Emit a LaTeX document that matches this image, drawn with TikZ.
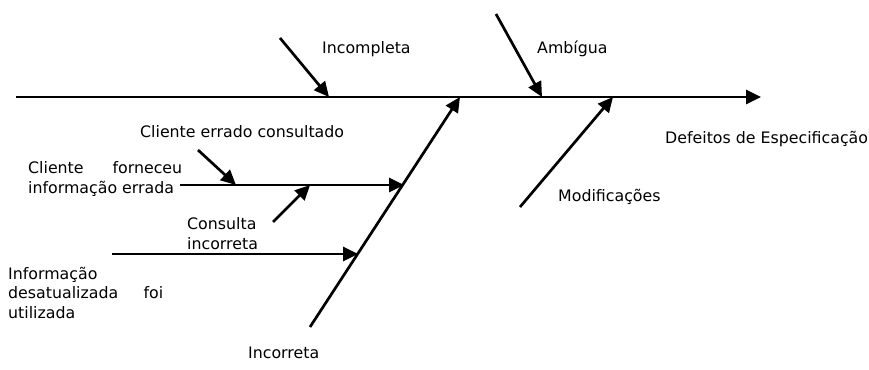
\documentclass[tikz,border=0pt]{standalone}
\usepackage{fontspec}
\setmainfont{DejaVu Sans}
\usetikzlibrary{arrows.meta}
\begin{document}
\begin{tikzpicture}[x=1pt,y=-1pt,
  bone/.style={line width=2.7pt},
  arr/.style={bone,-{Triangle[length=15pt,width=14pt]}},
  lbl/.style={anchor=base west,inner sep=0pt,align=left,font=\fontsize{15.8}{19.3}\selectfont}]
\useasboundingbox (0,0) rectangle (869,369);
% coordinates
\coordinate (spineL) at (16,97);
\coordinate (spineR) at (761,97);
\coordinate (incS) at (280,38);
\coordinate (incE) at (329,97);
\coordinate (ambS) at (496,14);
\coordinate (ambE) at (542,97);
\coordinate (corS) at (310,327);
\coordinate (corE) at (460,97);
\coordinate (modS) at (520,207);
\coordinate (modE) at (613,97);
\coordinate (cfS) at (180,185);
\coordinate (cfE) at (404,185);
\coordinate (ceS) at (198,150);
\coordinate (ceE) at (236,185);
\coordinate (ciS) at (273,222);
\coordinate (ciE) at (310,185);
\coordinate (idS) at (112,254);
\coordinate (idE) at (358,254);
% bones
\draw[arr] (spineL) -- (spineR);
\draw[arr] (incS) -- (incE);
\draw[arr] (ambS) -- (ambE);
\draw[arr] (corS) -- (corE);
\draw[arr] (modS) -- (modE);
\draw[arr] (cfS) -- (cfE);
\draw[arr] (ceS) -- (ceE);
\draw[arr] (ciS) -- (ciE);
\draw[arr] (idS) -- (idE);
% labels (multi-line nodes: base = last line)
\node[lbl] (tInc) at (322,54) {Incompleta};
\node[lbl] (tAmb) at (537,54) {Ambígua};
\node[lbl] (tDef) at (665,143) {Defeitos de Especificação};
\node[lbl] (tMod) at (558,201) {Modificações};
\node[lbl] (tCE) at (140,137) {Cliente errado consultado};
\node[lbl] (tCF) at (28,193) {\hbox to 154pt{Cliente\hfill forneceu}\\informação errada};
\node[lbl] (tCI) at (187,249) {Consulta\\incorreta};
\node[lbl] (tID) at (8,318) {Informação\\\hbox to 155pt{desatualizada\hfill foi}\\utilizada};
\node[lbl] (tCor) at (248,358) {Incorreta};
\end{tikzpicture}
\end{document}
